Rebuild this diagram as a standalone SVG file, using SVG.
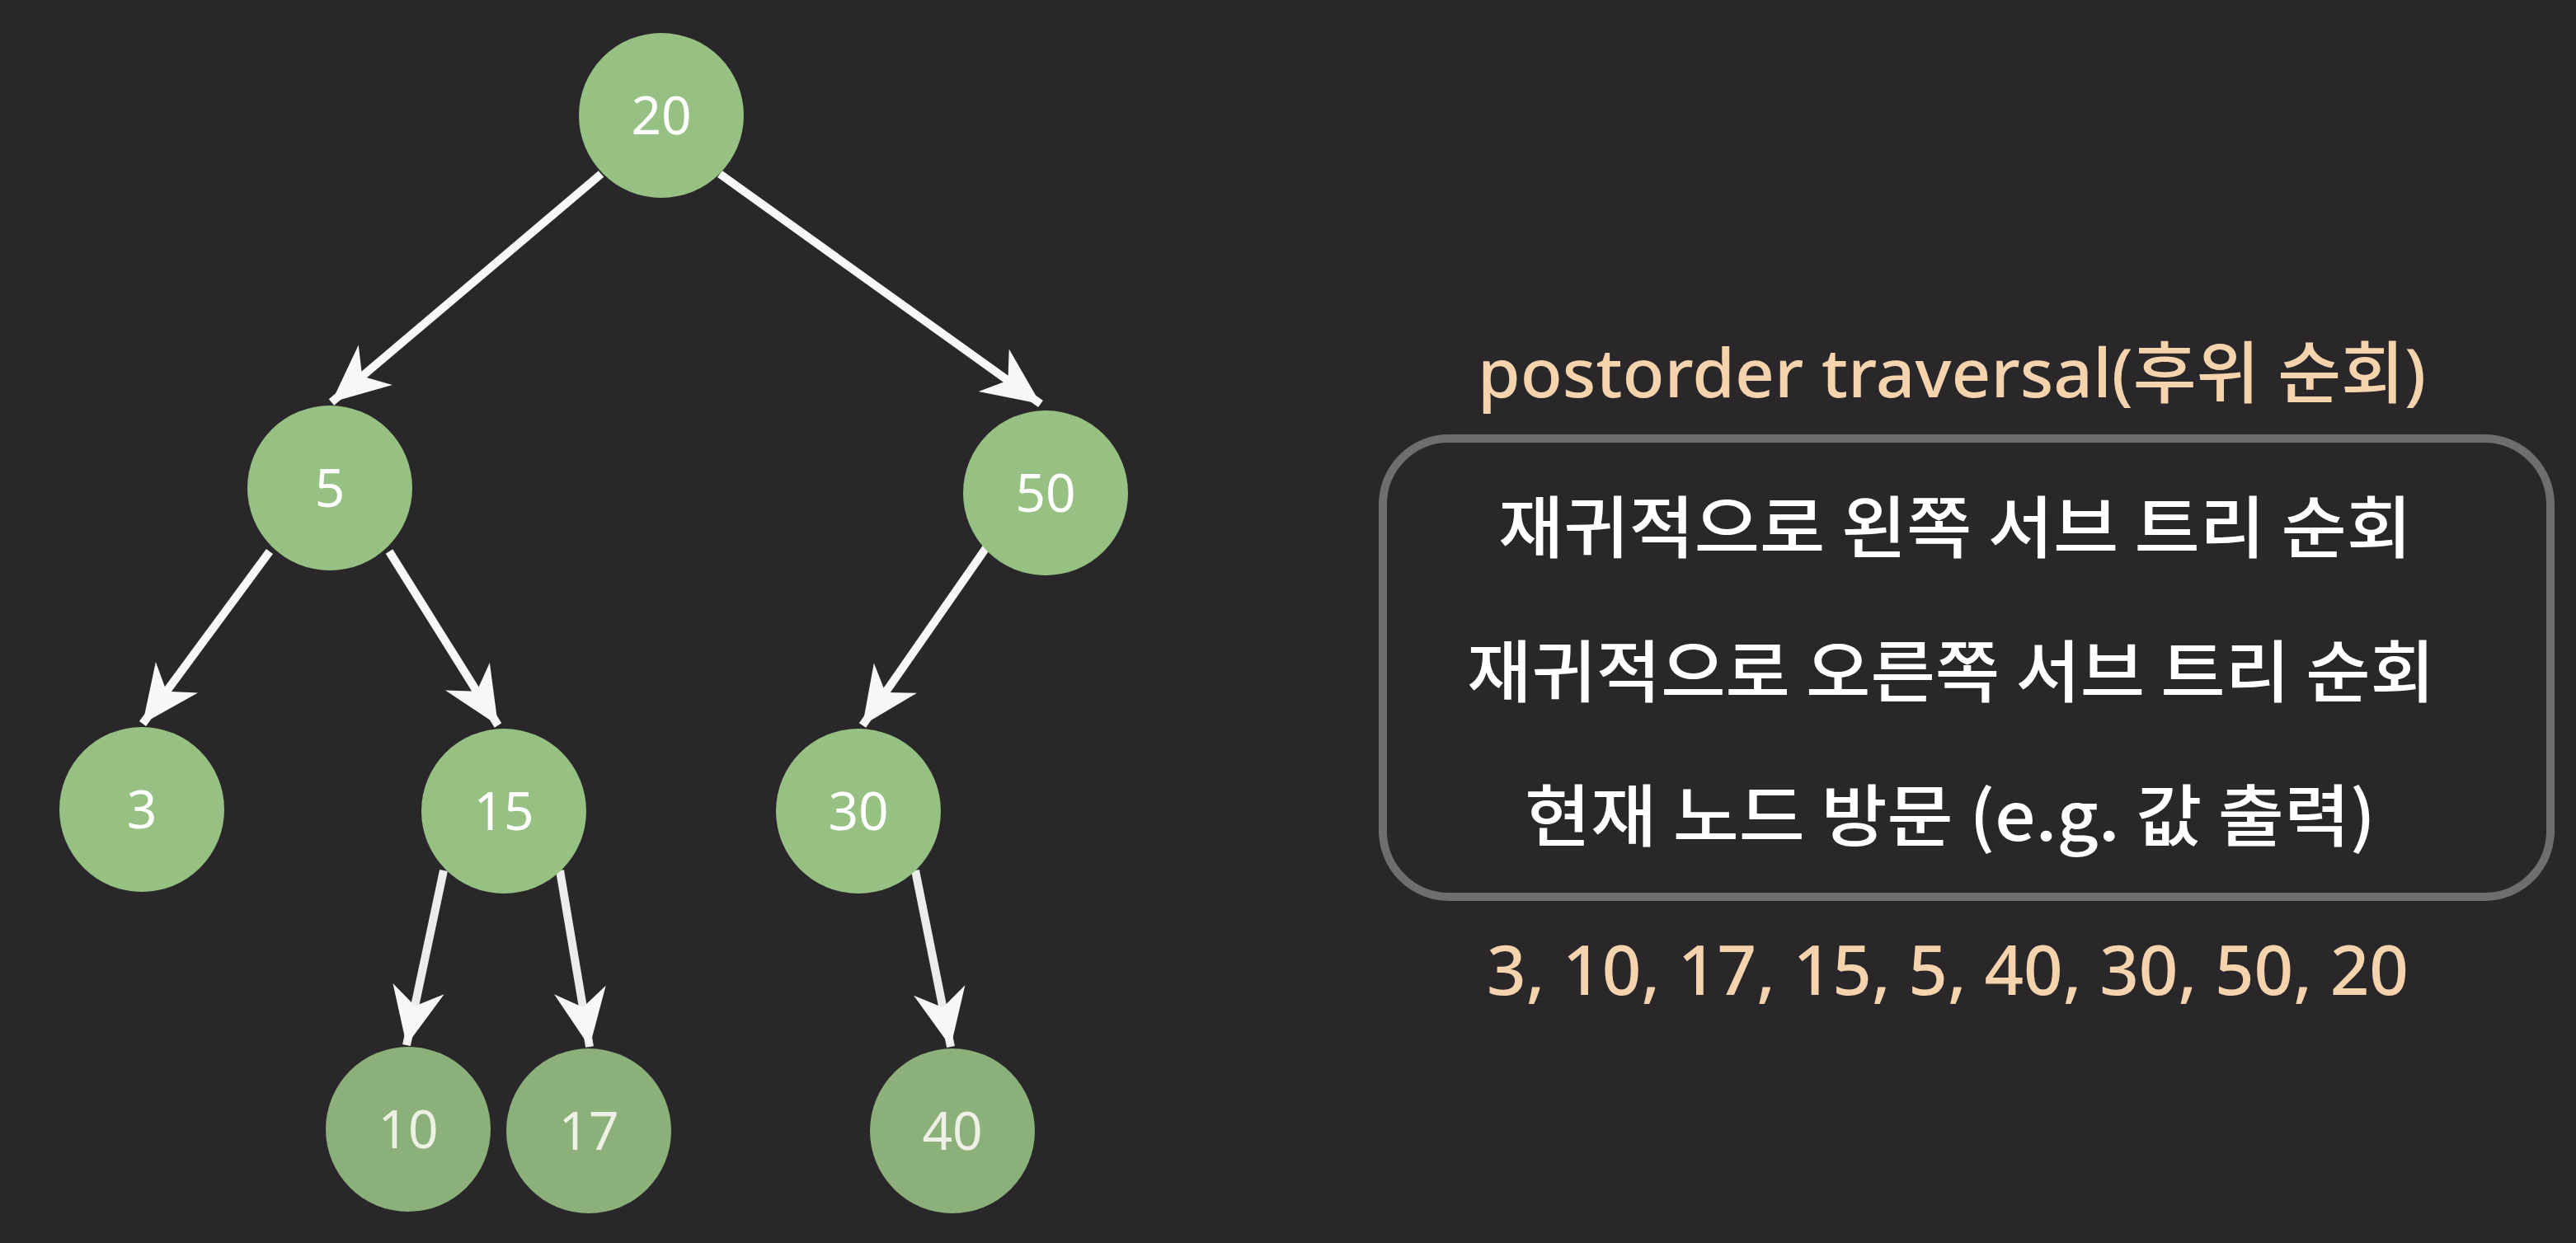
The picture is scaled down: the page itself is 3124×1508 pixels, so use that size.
<svg xmlns="http://www.w3.org/2000/svg" width="3124" height="1508" viewBox="0 0 3124 1508">
<defs>
<style>
.bg{fill:#29272a}
.node{fill:#96c182}
.node.low{fill:#8bb079}
.num{font-family:"Noto Sans","Open Sans",sans-serif;font-size:64px;fill:#ffffff;text-anchor:middle}
.num.low{fill:#eef0e6}
.edge{stroke:#f7f7f7;stroke-width:10;fill:none;marker-end:url(#arr)}
.edge.low{stroke:#ececec}
.title{font-family:"Noto Sans","Noto Sans CJK KR",sans-serif;font-size:82px;font-weight:500;fill:#f4d3ad;text-anchor:middle}
.rule{font-family:"Noto Sans CJK KR","Noto Sans",sans-serif;font-size:82px;font-weight:500;fill:#ffffff;text-anchor:middle}
.seq{font-family:"Noto Sans",sans-serif;font-size:84px;font-weight:500;fill:#f4d3ad;text-anchor:middle}
.box{fill:none;stroke:#6e6d70;stroke-width:10}
</style>
<marker id="arr" markerUnits="userSpaceOnUse" markerWidth="90" markerHeight="90" viewBox="-75 -40 85 80" refX="0" refY="0" orient="auto">
<path d="M0,0 L-66,-30 L-46,0 L-66,30 Z" fill="#f7f7f7"/>
</marker>
</defs>
<rect class="bg" x="0" y="0" width="3124" height="1508"/>
<g id="connectors">
<line class="edge" x1="729" y1="211" x2="402" y2="488"/>
<line class="edge" x1="873" y1="211" x2="1262" y2="490"/>
<line class="edge" x1="327" y1="669" x2="173" y2="878"/>
<line class="edge" x1="472" y1="669" x2="604" y2="880"/>
<line class="edge" x1="1197" y1="663" x2="1046" y2="880"/>
<line class="edge low" x1="538" y1="1056" x2="493" y2="1268"/>
<line class="edge low" x1="679" y1="1056" x2="715" y2="1270"/>
<line class="edge low" x1="1110" y1="1056" x2="1153" y2="1270"/>
</g>
<g id="n20"><circle class="node" cx="802" cy="140" r="100"/><text class="num" x="802" y="163">20</text></g>
<g id="n5"><circle class="node" cx="400" cy="592" r="100"/><text class="num" x="400" y="615">5</text></g>
<g id="n50"><circle class="node" cx="1268" cy="598" r="100"/><text class="num" x="1268" y="621">50</text></g>
<g id="n3"><circle class="node" cx="172" cy="982" r="100"/><text class="num" x="172" y="1005">3</text></g>
<g id="n15"><circle class="node" cx="611" cy="984" r="100"/><text class="num" x="611" y="1007">15</text></g>
<g id="n30"><circle class="node" cx="1041" cy="984" r="100"/><text class="num" x="1041" y="1007">30</text></g>
<g id="n10"><circle class="node low" cx="495" cy="1370" r="100"/><text class="num low" x="495" y="1393">10</text></g>
<g id="n17"><circle class="node low" cx="714" cy="1372" r="100"/><text class="num low" x="714" y="1395">17</text></g>
<g id="n40"><circle class="node low" cx="1155" cy="1372" r="100"/><text class="num low" x="1155" y="1395">40</text></g>
<g id="panel">
<text class="title" x="2367" y="482" textLength="1150" lengthAdjust="spacingAndGlyphs">postorder traversal(후위 순회)</text>
<rect class="box" x="1677" y="532" width="1416" height="556" rx="80" ry="80"/>
<text class="rule" x="2371" y="670" textLength="1108" lengthAdjust="spacingAndGlyphs">재귀적으로 왼쪽 서브 트리 순회</text>
<text class="rule" x="2366" y="845" textLength="1174" lengthAdjust="spacingAndGlyphs">재귀적으로 오른쪽 서브 트리 순회</text>
<text class="rule" x="2365" y="1020" textLength="1032" lengthAdjust="spacingAndGlyphs">현재 노드 방문 (e.g. 값 출력)</text>
<text class="seq" x="2362" y="1207" textLength="1118" lengthAdjust="spacingAndGlyphs">3, 10, 17, 15, 5, 40, 30, 50, 20</text>
</g>
</svg>
